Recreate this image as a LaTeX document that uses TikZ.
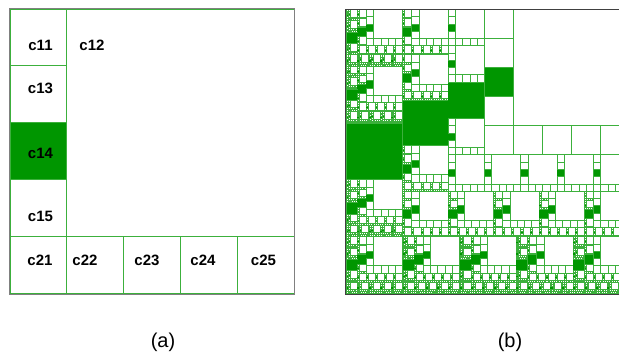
\documentclass[tikz,border=0pt]{standalone}
\usepackage{fontspec}
\setmainfont{Liberation Sans}

\definecolor{gridgreen}{RGB}{60,176,60}
\definecolor{cellgreen}{RGB}{0,150,0}

\tikzset{
  gridline/.style={draw=gridgreen, line width=#1},
  gridline/.default=0.9pt,
  cellfill/.style={fill=cellgreen},
  frameline/.style={draw=#1, line width=0.9pt},
  celllabel/.style={font=\fontsize{15}{18}\selectfont\bfseries, inner sep=0pt},
  panellabel/.style={font=\fontsize{20}{24}\selectfont, inner sep=0pt}
}

% one cell: top-left x, top-left y, size, levels still to split
\newcommand\gridcell[4]{%
  \ifnum#4>0
    \pgfmathsetmacro\cf{#3/5}%
    \pgfmathtruncatemacro\cd{#4-1}%
    \pgfmathsetmacro\cw{max(0.45,min(0.9,#3/25))}%
    \fill[cellfill] (#1,#2+2*\cf) rectangle ++(\cf,\cf);
    \draw[gridline=\cw pt] (#1+\cf,#2) -- ++(0,#3)
      (#1,#2+4*\cf) -- ++(#3,0)
      (#1,#2+\cf) -- ++(\cf,0)
      (#1,#2+2*\cf) -- ++(\cf,0)
      (#1,#2+3*\cf) -- ++(\cf,0)
      (#1+2*\cf,#2+4*\cf) -- ++(0,\cf)
      (#1+3*\cf,#2+4*\cf) -- ++(0,\cf)
      (#1+4*\cf,#2+4*\cf) -- ++(0,\cf);
    % children c11, c12, c13, c15, c21 ... c25
    \foreach \cx/\cy/\cs in {0/0/1, 1/0/4, 0/1/1, 0/3/1, 0/4/1, 1/4/1, 2/4/1, 3/4/1, 4/4/1} {
      \pgfmathsetmacro\nx{#1+\cx*\cf}%
      \pgfmathsetmacro\ny{#2+\cy*\cf}%
      \pgfmathsetmacro\ns{\cs*\cf}%
      \edef\nextcell{\noexpand\gridcell{\nx}{\ny}{\ns}{\cd}}\nextcell
    }
  \fi}

\begin{document}
\begin{tikzpicture}[x=1pt, y=-1pt]
  \useasboundingbox (0,0) rectangle (619,356);

  % (a) one level
  \gridcell{10}{9}{284}{1}
  \draw[gridline] (10,9) rectangle ++(284,284);
  \draw[frameline=gray] (9.5,8.5) rectangle (294.5,294.5);
  \node[celllabel] (c11) at (40.5,45) {c11};
  \node[celllabel] (c12) at (92,45) {c12};
  \node[celllabel] (c13) at (40.5,88.5) {c13};
  \node[celllabel] (c14) at (40.5,153) {c14};
  \node[celllabel] (c15) at (40.5,216.5) {c15};
  \node[celllabel] (c21) at (40,260) {c21};
  \node[celllabel] (c22) at (85,260) {c22};
  \node[celllabel] (c23) at (147,260) {c23};
  \node[celllabel] (c24) at (203,260) {c24};
  \node[celllabel] (c25) at (263.5,260) {c25};

  % (b) four levels
  \begin{scope}
    \clip (0,0) rectangle (619,356);
    \gridcell{346}{9.5}{284}{4}
    \draw[gridline] (346,9.5) rectangle ++(284,284);
    \draw[frameline=black!75] (345.5,9) rectangle (630.5,294);
  \end{scope}

  \node[panellabel] (lbla) at (163,342.5) {(a)};
  \node[panellabel] (lblb) at (510,342.5) {(b)};
\end{tikzpicture}
\end{document}
